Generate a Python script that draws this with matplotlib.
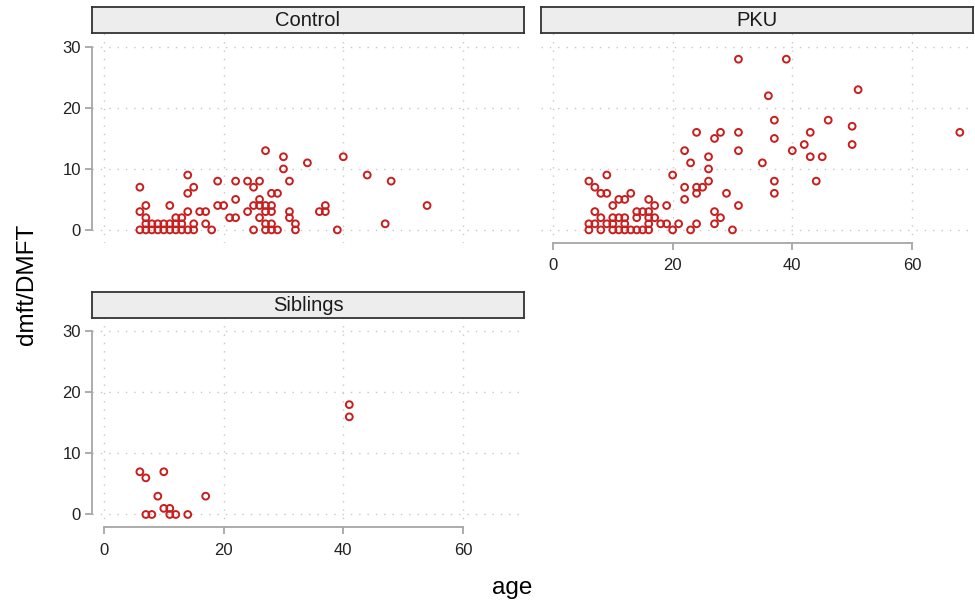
import matplotlib.pyplot as plt

plt.rcParams['font.family'] = ['Liberation Sans', 'DejaVu Sans']

# data: age vs dmft/DMFT per group
ctrl_age = [6, 6, 6, 7, 7, 7, 7, 8, 8, 9, 9, 10, 10, 11, 11, 11, 12, 12, 12,
            13, 13, 13, 14, 14, 14, 14, 15, 15, 15, 16, 17, 17, 18, 19, 19, 20,
            21, 22, 22, 22, 24, 24, 25, 25, 25, 26, 26, 26, 26, 27, 27, 27, 27, 27,
            28, 28, 28, 28, 28, 29, 29, 30, 30, 31, 31, 31, 32, 32,
            34, 36, 37, 37, 39, 40, 44, 47, 48, 54]
ctrl_dmft = [7, 3, 0, 4, 2, 1, 0, 1, 0, 1, 0, 1, 0, 4, 1, 0, 2, 1, 0,
             2, 1, 0, 9, 6, 3, 0, 7, 1, 0, 3, 3, 1, 0, 8, 4, 4,
             2, 2, 8, 5, 8, 3, 7, 4, 0, 8, 5, 4, 2, 13, 4, 3, 1, 0,
             6, 4, 3, 1, 0, 6, 0, 12, 10, 8, 3, 2, 1, 0,
             11, 3, 4, 3, 0, 12, 9, 1, 8, 4]

pku_age = [6, 6, 6, 7, 7, 7, 8, 8, 8, 9, 9, 9, 10, 10, 10, 10, 11, 11, 11,
           12, 12, 12, 12, 13, 13, 14, 14, 14, 15, 15, 16, 16, 16, 16, 16,
           17, 17, 18, 19, 19, 20, 20, 21, 22, 22, 22, 23, 23, 24, 24, 24, 24,
           25, 26, 26, 26, 27, 27, 27, 28, 28, 29, 30, 31, 31, 31, 31,
           35, 36, 37, 37, 37, 37, 39, 40, 42, 43, 43, 44, 45, 46, 50, 50, 51, 68]
pku_dmft = [8, 1, 0, 7, 3, 1, 6, 2, 0, 9, 6, 1, 4, 2, 1, 0, 5, 2, 0,
            5, 2, 1, 0, 6, 0, 3, 2, 0, 3, 0, 5, 3, 2, 1, 0,
            4, 2, 1, 1, 4, 9, 0, 1, 13, 7, 5, 11, 0, 16, 7, 6, 1,
            7, 12, 10, 8, 15, 3, 1, 16, 2, 6, 0, 28, 16, 13, 4,
            11, 22, 18, 15, 8, 6, 28, 13, 14, 16, 12, 8, 12, 18, 17, 14, 23, 16]

sib_age = [6, 7, 7, 8, 9, 10, 10, 11, 11, 12, 14, 17, 41, 41]
sib_dmft = [7, 6, 0, 0, 3, 7, 1, 1, 0, 0, 0, 3, 18, 16]

groups = ['Control', 'PKU', 'Siblings']
x_ticks = [0, 20, 40, 60]
y_ticks = [0, 10, 20, 30]

W, H = 975, 603
fig = plt.figure(figsize=(W / 100, H / 100), dpi=100)

red = '#c81e1e'
axcol = '#a6a6a6'
gridcol = '#c8c8c8'


def px(l, t, r, b):
    return [l / W, 1 - b / H, (r - l) / W, (b - t) / H]


def panel(box, strip_box, title, xs, ys, show_x, show_y):
    ax = fig.add_axes(px(*box))
    ax.set_xlim(-2.0, 70.2)
    ax.set_ylim(-2.1, 32.25)
    ax.set_xticks(x_ticks)
    ax.set_yticks(y_ticks)
    ax.grid(True, color=gridcol, linestyle=(0, (1, 5)), linewidth=1.0)
    ax.set_axisbelow(True)
    for s in ['top', 'right']:
        ax.spines[s].set_visible(False)
    ax.spines['left'].set_visible(show_y)
    ax.spines['bottom'].set_visible(show_x)
    for s in ['left', 'bottom']:
        ax.spines[s].set_color(axcol)
        ax.spines[s].set_linewidth(1.3)
    ax.spines['left'].set_bounds(0, 30)
    ax.spines['bottom'].set_bounds(0, 60)
    ax.tick_params(axis='both', colors=axcol, labelcolor='#222222',
                   labelsize=12, length=5, width=1.3)
    ax.tick_params(axis='x', pad=6)
    ax.tick_params(axis='y', pad=3)
    if not show_x:
        ax.tick_params(axis='x', length=0, labelbottom=False)
    if not show_y:
        ax.tick_params(axis='y', length=0, labelleft=False)
    ax.scatter(xs, ys, s=24, facecolors='none', edgecolors=red,
               linewidths=1.4, zorder=3, clip_on=False)

    sax = fig.add_axes(px(*strip_box))
    sax.set_xticks([])
    sax.set_yticks([])
    sax.set_facecolor('#ededed')
    for s in sax.spines.values():
        s.set_color('#333333')
        s.set_linewidth(1.3)
    sax.text(0.5, 0.48, title, ha='center', va='center', fontsize=14.5,
             color='#1a1a1a', transform=sax.transAxes)
    return ax


panel((92, 33.3, 524, 242.7), (92, 7.3, 524, 33.3), groups[0],
      ctrl_age, ctrl_dmft, False, True)
panel((541, 33.3, 973, 242.7), (541, 7.3, 973, 33.3), groups[1],
      pku_age, pku_dmft, True, False)
panel((92, 317.7, 524, 527.3), (92, 291.7, 524, 317.7), groups[2],
      sib_age, sib_dmft, True, True)

fig.text(512 / W, 1 - 588 / H, 'age', ha='center', va='center', fontsize=17.5)
fig.text(27 / W, 1 - 284 / H, 'dmft/DMFT', ha='center', va='center',
         rotation=90, fontsize=17.5)

fig.savefig('out.png', dpi=100)
